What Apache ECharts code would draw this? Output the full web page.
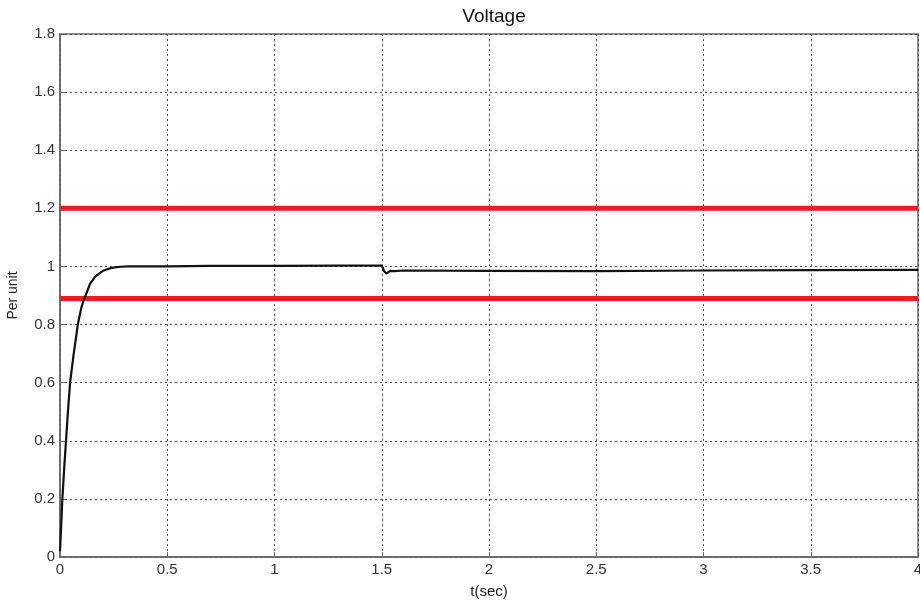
<!DOCTYPE html>
<html>
<head>
<meta charset="utf-8">
<script src="https://cdn.jsdelivr.net/npm/echarts@6/dist/echarts.min.js"></script>
<style>html,body{margin:0;padding:0;background:#fff}#c{width:920px;height:604px}</style>
</head>
<body>
<div id="c"></div>
<script>
var timeSec = [0, 0.005, 0.011, 0.02, 0.028, 0.037, 0.047, 0.064, 0.083, 0.1, 0.114, 0.14, 0.164, 0.2, 0.24, 0.28, 0.32, 0.5, 0.7, 1.0, 1.3, 1.5, 1.505, 1.51, 1.52, 1.53, 1.54, 1.56, 1.6, 2.0, 2.5, 3.0, 3.5, 4.0];
var voltage = [0.02, 0.1, 0.2, 0.31, 0.4, 0.5, 0.6, 0.7, 0.8, 0.86, 0.89, 0.94, 0.965, 0.985, 0.995, 0.999, 1.0, 1.0, 1.002, 1.002, 1.003, 1.003, 0.995, 0.985, 0.976, 0.98, 0.985, 0.984, 0.986, 0.985, 0.984, 0.986, 0.987, 0.988];
var upperLimit = 1.2;
var lowerLimit = 0.89;
var xTicks = [0, 0.5, 1, 1.5, 2, 2.5, 3, 3.5, 4];
var yTicks = [0, 0.2, 0.4, 0.6, 0.8, 1, 1.2, 1.4, 1.6, 1.8];

var chart = echarts.init(document.getElementById('c'));
var font = '"Liberation Sans", Arial, sans-serif';
var dotted = {color: '#555', width: 1, type: [2, 3]};
chart.setOption({
  animation: false,
  title: {text: 'Voltage', left: 489, top: 2, textAlign: 'center',
    textStyle: {fontFamily: font, fontSize: 19, fontWeight: 'normal', color: '#111'}},
  grid: {left: 60, right: 2, top: 34, bottom: 47, show: true, borderColor: '#666', borderWidth: 1.5,
    outerBoundsMode: 'none', containLabel: false},
  xAxis: {type: 'value', min: xTicks[0], max: xTicks[xTicks.length - 1], interval: 0.5,
    name: 't(sec)', nameLocation: 'middle', nameGap: 27,
    nameTextStyle: {fontFamily: font, fontSize: 15, color: '#222'},
    axisLine: {show: true, onZero: false, lineStyle: {color: '#666', width: 1.5}},
    axisTick: {show: true, inside: true, length: 5, lineStyle: {color: '#666'}},
    axisLabel: {fontFamily: font, fontSize: 15, color: '#333', margin: 5},
    splitLine: {show: true, lineStyle: dotted}},
  yAxis: {type: 'value', min: yTicks[0], max: yTicks[yTicks.length - 1], interval: 0.2,
    name: 'Per unit', nameLocation: 'middle', nameGap: 40,
    nameTextStyle: {fontFamily: font, fontSize: 14, color: '#222'},
    axisLine: {show: true, lineStyle: {color: '#666', width: 1.5}},
    axisTick: {show: true, inside: true, length: 5, lineStyle: {color: '#666'}},
    axisLabel: {fontFamily: font, fontSize: 15, color: '#333', margin: 5,
      formatter: function (v) { return String(Math.round(v * 10) / 10); }},
    splitLine: {show: true, lineStyle: dotted}},
  series: [
    {type: 'line', data: [[xTicks[0], upperLimit], [xTicks[xTicks.length - 1], upperLimit]], symbol: 'none',
      lineStyle: {color: '#ec1c24', width: 5}, z: 3},
    {type: 'line', data: [[xTicks[0], lowerLimit], [xTicks[xTicks.length - 1], lowerLimit]], symbol: 'none',
      lineStyle: {color: '#ec1c24', width: 5}, z: 3},
    {type: 'line', data: timeSec.map(function (t, i) { return [t, voltage[i]]; }), symbol: 'none',
      lineStyle: {color: '#111', width: 2.2}, z: 4}
  ]
});
</script>
</body>
</html>
